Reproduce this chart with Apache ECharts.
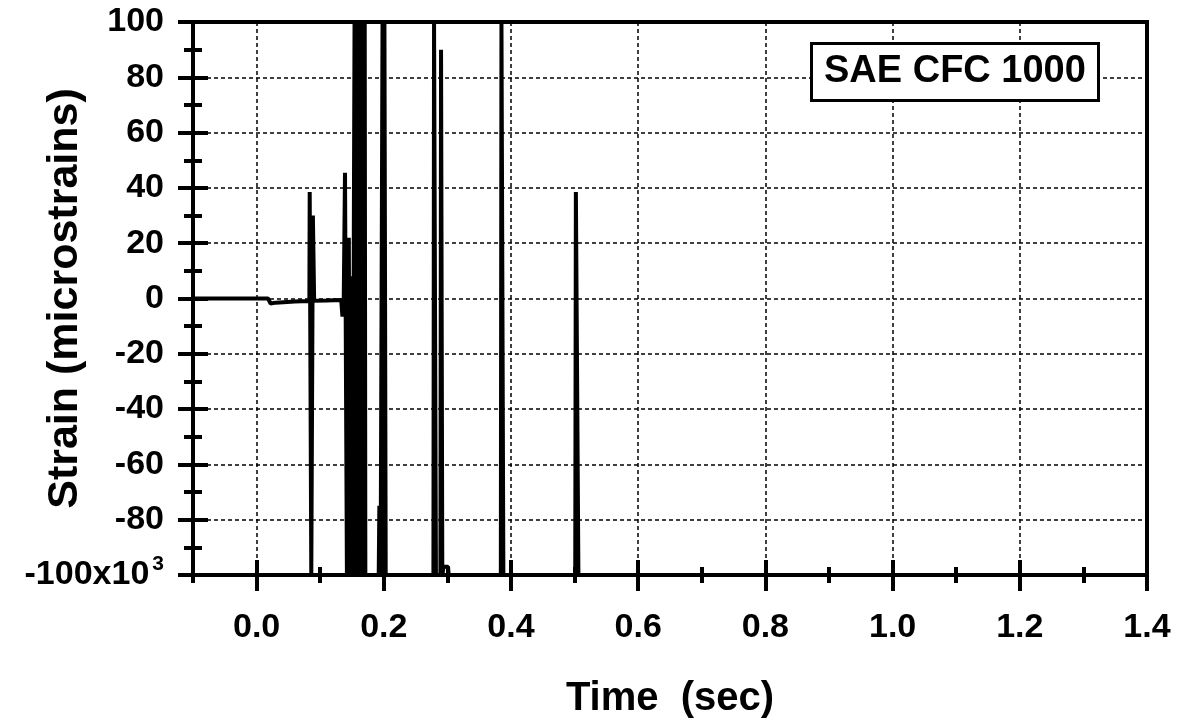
<!DOCTYPE html>
<html><head><meta charset="utf-8">
<script src="https://cdn.jsdelivr.net/npm/echarts@6/dist/echarts.min.js"></script>
<style>html,body{margin:0;padding:0;background:#fff}#c{width:1183px;height:721px}</style>
</head><body><div id="c"></div>
<script>
// Time (sec) and strain (x10^3 microstrains)
const time = [-0.100, 0.000, 0.018, 0.022, 0.030, 0.060, 0.083, 0.0835, 0.086, 0.0885, 0.0905,
  0.110, 0.133, 0.135, 0.137, 0.139, 0.142, 0.145, 0.147, 0.149, 0.151, 0.154, 0.156, 0.158,
  0.160, 0.162, 0.164, 0.166, 0.168, 0.170, 0.171, 0.192, 0.193, 0.195, 0.197, 0.198, 0.200, 0.201, 0.203,
  0.278, 0.279, 0.282, 0.289, 0.290, 0.292, 0.294, 0.301, 0.302, 0.384, 0.385, 0.388,
  0.501, 0.502, 0.506, 0.560];
const strain = [0, 0, 0, -1.8, -1.5, -1.1, -0.9, 38.5, -100, 30, -0.8,
  -0.7, -0.5, -6.5, -0.5, 45.5, -100, 22, -100, 8, -100, 100, -100, 100,
  -100, 100, -100, 100, -100, 100, -100, -100, -75, -100, -100, 100, -100, 100, -100,
  -100, 100, -100, -100, 90, -100, -97, -97, -100, -100, 100, -100,
  -100, 38.5, -100, -100];
const xMajorTicks = [0.0, 0.2, 0.4, 0.6, 0.8, 1.0, 1.2, 1.4];
const xMinorTicks = [-0.1, 0.1, 0.3, 0.5, 0.7, 0.9, 1.1, 1.3];
const xInnerMinor = [0.1, 0.3, 0.5, 0.7, 0.9, 1.1, 1.3];
const yMin = -100, yMax = 100, yStep = 20;
const xMin = -0.1, xMax = 1.4;
const labelText = 'SAE CFC 1000';
const xTitle = 'Time  (sec)';
const yTitle = 'Strain (microstrains)';

const FONT = "'Liberation Sans', Arial, Helvetica, sans-serif";
const chart = echarts.init(document.getElementById('c'), null, {renderer: 'canvas'});
const data = time.map((t, i) => [t, strain[i]]);

function xAx(extra) {
  return Object.assign({
    type: 'value', position: 'bottom', min: xMin, max: xMax,
    axisLine: {show: false, onZero: false}, axisLabel: {show: false}, splitLine: {show: false},
    axisTick: {show: false}
  }, extra);
}
function yAx(extra) {
  return Object.assign({
    type: 'value', position: 'left', min: yMin, max: yMax, interval: yStep,
    axisLine: {show: false, onZero: false}, axisLabel: {show: false}, splitLine: {show: false},
    axisTick: {show: false}
  }, extra);
}

chart.setOption({
  animation: false,
  backgroundColor: '#fff',
  title: {
    text: labelText, left: 811, top: 43,
    backgroundColor: '#fff', borderColor: '#000', borderWidth: 3, padding: [10, 13],
    textStyle: {fontFamily: FONT, fontSize: 38, fontWeight: 'bold', color: '#000'}
  },
  grid: {
    left: 193, right: 36, top: 22, bottom: 146, containLabel: false, outerBoundsMode: 'none',
    show: true, borderColor: '#000', borderWidth: 4, backgroundColor: 'transparent'
  },
  xAxis: [
    xAx({
      axisLine: {show: true, onZero: false, lineStyle: {color: '#000', width: 4}},
      axisTick: {show: true, customValues: xMajorTicks, length: 16, lineStyle: {color: '#000', width: 4}},
      axisLabel: {show: true, customValues: xMajorTicks, margin: 36, formatter: v => v.toFixed(1),
        fontFamily: FONT, fontSize: 34, fontWeight: 'bold', color: '#000'},
      splitLine: {show: true, lineStyle: {color: '#000', width: 1.5, type: [4, 3]}},
      name: xTitle, nameLocation: 'middle', nameGap: 104, nameMoveOverlap: false,
      nameTextStyle: {fontFamily: FONT, fontSize: 40, fontWeight: 'bold', color: '#000'}
    }),
    xAx({axisTick: {show: true, inside: true, customValues: xMajorTicks, length: 15, lineStyle: {color: '#000', width: 4}}}),
    xAx({axisTick: {show: true, customValues: xMinorTicks, length: 8, lineStyle: {color: '#000', width: 4}}}),
    xAx({axisTick: {show: true, inside: true, customValues: xInnerMinor, length: 8, lineStyle: {color: '#000', width: 4}}})
  ],
  yAxis: [
    yAx({
      axisLine: {show: true, onZero: false, lineStyle: {color: '#000', width: 4}},
      axisTick: {show: true, length: 15, lineStyle: {color: '#000', width: 4}},
      minorTick: {show: true, splitNumber: 2, length: 9, lineStyle: {color: '#000', width: 4}},
      axisLabel: {show: true, margin: 29, fontFamily: FONT, fontSize: 34, fontWeight: 'bold', color: '#000',
        formatter: v => v === yMin ? v + 'x10{sup|3}' : String(v),
        rich: {
          sup: {fontFamily: FONT, fontSize: 21, fontWeight: 'bold', color: '#000', padding: [0, 0, 22, 3]}
        }},
      splitLine: {show: true, lineStyle: {color: '#000', width: 1.5, type: [4, 3]}},
      name: yTitle, nameLocation: 'middle', nameGap: 106, nameMoveOverlap: false,
      nameTextStyle: {fontFamily: FONT, fontSize: 43, fontWeight: 'bold', color: '#000'}
    }),
    yAx({
      axisTick: {show: true, inside: true, length: 15, lineStyle: {color: '#000', width: 4}},
      minorTick: {show: true, splitNumber: 2, length: 9, lineStyle: {color: '#000', width: 4}}
    })
  ],
  series: [{
    type: 'line', data: data, xAxisIndex: 0, yAxisIndex: 0, showSymbol: false, clip: true,
    lineStyle: {color: '#000', width: 4}, z: 3
  }]
});
</script></body></html>
